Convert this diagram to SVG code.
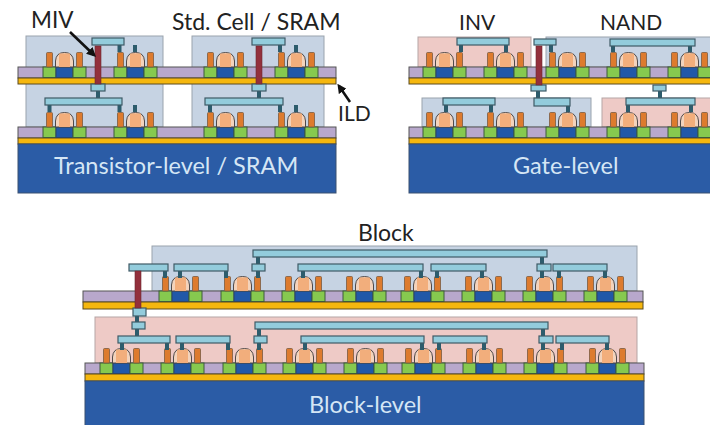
<svg xmlns="http://www.w3.org/2000/svg" width="710" height="425" viewBox="0 0 710 425">
<style>
text{font-family:Lato,"Liberation Sans",sans-serif;font-size:21px;fill:#222}
.w{fill:#d5e6f5;font-size:23.5px}
.l{font-size:23px}
.p{fill:#b8a8cc;stroke:#555;stroke-width:1}
.g{fill:#f5b70f;stroke:#5a4a20;stroke-width:1}
.s{fill:#2b5ca6;stroke:#3a5070;stroke-width:1}
.bb{fill:#c6d3e3;stroke:#9aa3ad;stroke-width:1}
.bp{fill:#eecac6;stroke:#b5a5a5;stroke-width:1}
.m{fill:#93ccdc;stroke:#3f5a66;stroke-width:1.2}
.miv{fill:#93303c;stroke:#6b2a30;stroke-width:.6}
.ar{fill:none;stroke:#111;stroke-width:2.6}
</style>
<defs>
<g id="t">
<rect x="0" y="0" width="13" height="10.5" fill="#86c94f" stroke="#3d5a3a"/>
<rect x="13" y="0" width="17" height="10.5" fill="#2158a8" stroke="#2f4464"/>
<rect x="30" y="0" width="13" height="10.5" fill="#86c94f" stroke="#3d5a3a"/>
<rect x="3.5" y="-14.5" width="6" height="14.5" rx="1" fill="#dd7b2e" stroke="#7a5a40" stroke-width=".8"/>
<rect x="33.5" y="-14.5" width="6" height="14.5" rx="1" fill="#dd7b2e" stroke="#7a5a40" stroke-width=".8"/>
<path d="M12.500 0V-6Q13-14.500 21.500-14.500Q30-14.500 30.500-6V0Z" fill="#f3d3bc" stroke="#4f4a4a" stroke-width="1"/>
<path d="M16 0V-13.500H27V0Z" fill="#f2ae7c"/>
</g>
<rect id="v" x="-2" y="0" width="4" height="7" fill="#2d5c6c"/>
<marker id="ah" viewBox="0 0 5 5" markerWidth="3.600" markerHeight="3.600" refX="3.500" refY="2.500" orient="auto"><path d="M0 0L5 2.500L0 5Z" fill="#111"/></marker>
</defs>

<g id="panel-transistor">
<rect class="bb" x="26" y="36" width="137" height="91"/>
<rect class="bb" x="192" y="36" width="132" height="91"/>
<rect class="p" x="18" y="67" width="318" height="11"/>
<rect class="g" x="18" y="78" width="318" height="6"/>
<rect class="p" x="18" y="127" width="318" height="11"/>
<rect class="g" x="18" y="138" width="318" height="6"/>
<rect class="s" x="18" y="144" width="318" height="49"/>
<use href="#t" x="43" y="67"/><use href="#t" x="114" y="67"/><use href="#t" x="204" y="67"/><use href="#t" x="275" y="67"/>
<use href="#t" x="43" y="127"/><use href="#t" x="114" y="127"/><use href="#t" x="204" y="127"/><use href="#t" x="275" y="127"/>
<use href="#v" x="119.500" y="45"/><use href="#v" x="135" y="45"/><use href="#v" x="280" y="45"/><use href="#v" x="296" y="45"/>
<use href="#v" x="98" y="91"/><use href="#v" x="259" y="91"/>
<use href="#v" x="49.500" y="105"/><use href="#v" x="119.500" y="105"/><use href="#v" x="135" y="105"/>
<use href="#v" x="210" y="105"/><use href="#v" x="280" y="105"/><use href="#v" x="296" y="105"/>
<rect class="m" x="92" y="38" width="32" height="7"/><rect class="m" x="252" y="38" width="33" height="7"/>
<rect class="m" x="91" y="84" width="14" height="7"/><rect class="m" x="252" y="84" width="14" height="7"/>
<rect class="m" x="45" y="98" width="77" height="7"/><rect class="m" x="205" y="98" width="78" height="7"/>
<rect class="miv" x="95" y="46" width="6" height="38"/><rect class="miv" x="256" y="46" width="6" height="38"/>
<text x="31" y="28" style="font-size:22.500px">MIV</text>
<text class="l" x="172" y="30">Std. Cell / SRAM</text>
<text x="338" y="121">ILD</text>
<text class="w" x="54" y="174">Transistor-level / SRAM</text>
<path class="ar" d="M70 32L94 55" marker-end="url(#ah)"/>
<path class="ar" d="M350 102L339 86" marker-end="url(#ah)"/>
</g>

<g id="panel-gate">
<rect class="bp" x="418" y="37" width="113" height="30"/>
<rect class="bb" x="546" y="37" width="170" height="30"/>
<rect class="bb" x="422" y="98" width="169" height="29"/>
<rect class="bp" x="602" y="98" width="114" height="29"/>
<rect class="p" x="409" y="67" width="306" height="11"/>
<rect class="g" x="409" y="78" width="306" height="6"/>
<rect class="p" x="409" y="127" width="306" height="11"/>
<rect class="g" x="409" y="138" width="306" height="6"/>
<rect class="s" x="409" y="144" width="306" height="49"/>
<use href="#t" x="423" y="67"/><use href="#t" x="484" y="67"/><use href="#t" x="546" y="67"/><use href="#t" x="607" y="67"/><use href="#t" x="668" y="67"/>
<use href="#t" x="423" y="127"/><use href="#t" x="484" y="127"/><use href="#t" x="546" y="127"/><use href="#t" x="607" y="127"/><use href="#t" x="668" y="127"/>
<use href="#v" x="461" y="45"/><use href="#v" x="506" y="45"/><use href="#v" x="551" y="45"/><use href="#v" x="613" y="45"/><use href="#v" x="690" y="45"/>
<use href="#v" x="538" y="91"/><use href="#v" x="660" y="91"/>
<use href="#v" x="446" y="105"/><use href="#v" x="491" y="105"/><use href="#v" x="568" y="105"/><use href="#v" x="628" y="105"/><use href="#v" x="691" y="105"/>
<rect class="m" x="457" y="38" width="52" height="7"/><rect class="m" x="534" y="39" width="22" height="6"/><rect class="m" x="610" y="39" width="85" height="7"/>
<rect class="m" x="531" y="85" width="15" height="6"/><rect class="m" x="653" y="85" width="13" height="6"/>
<rect class="m" x="443" y="98" width="52" height="7"/><rect class="m" x="534" y="98" width="36" height="8"/><rect class="m" x="626" y="98" width="69" height="7"/>
<rect class="miv" x="536" y="46" width="6" height="39"/>
<text x="459" y="30">INV</text>
<text x="600" y="30">NAND</text>
<text class="w" x="513" y="174">Gate-level</text>
</g>

<g id="panel-block">
<rect class="bb" x="152" y="246" width="485" height="45"/>
<rect class="bp" x="95" y="317" width="542" height="46"/>
<rect class="p" x="83" y="291" width="560" height="11"/>
<rect class="g" x="83" y="302" width="560" height="7"/>
<rect class="p" x="85" y="363" width="559" height="11"/>
<rect class="g" x="85" y="374" width="559" height="7"/>
<rect class="s" x="85" y="381" width="559" height="45"/>
<use href="#t" x="159" y="291"/><use href="#t" x="221" y="291"/><use href="#t" x="282" y="291"/><use href="#t" x="343" y="291"/><use href="#t" x="401" y="291"/><use href="#t" x="462" y="291"/><use href="#t" x="523" y="291"/><use href="#t" x="584" y="291"/>
<use href="#t" x="100" y="363"/><use href="#t" x="161" y="363"/><use href="#t" x="223" y="363"/><use href="#t" x="283" y="363"/><use href="#t" x="344" y="363"/><use href="#t" x="402" y="363"/><use href="#t" x="463" y="363"/><use href="#t" x="524" y="363"/><use href="#t" x="586" y="363"/>
<use href="#v" x="165" y="271"/><use href="#v" x="180" y="271"/><use href="#v" x="226" y="271"/><use href="#v" x="258" y="257"/><use href="#v" x="258" y="271"/><use href="#v" x="303" y="271"/><use href="#v" x="421" y="271"/><use href="#v" x="437" y="271"/><use href="#v" x="482" y="271"/><use href="#v" x="542" y="257"/><use href="#v" x="542" y="271"/><use href="#v" x="559" y="271"/><use href="#v" x="605" y="271"/>
<use href="#v" x="137" y="316"/><use href="#v" x="137" y="329"/><use href="#v" x="122" y="343"/><use href="#v" x="167" y="343"/><use href="#v" x="182" y="343"/><use href="#v" x="228" y="343"/><use href="#v" x="259" y="329"/><use href="#v" x="259" y="343"/><use href="#v" x="305" y="343"/><use href="#v" x="422" y="343"/><use href="#v" x="439" y="343"/><use href="#v" x="484" y="343"/><use href="#v" x="543" y="329"/><use href="#v" x="543" y="343"/><use href="#v" x="562" y="343"/><use href="#v" x="607" y="343"/>
<rect class="m" x="253" y="250" width="294" height="7"/>
<rect class="m" x="129" y="264" width="39" height="7"/><rect class="m" x="174" y="264" width="54" height="7"/><rect class="m" x="252" y="264" width="13" height="7"/><rect class="m" x="298" y="264" width="125" height="7"/><rect class="m" x="431" y="264" width="55" height="7"/><rect class="m" x="537" y="264" width="14" height="7"/><rect class="m" x="553" y="264" width="54" height="7"/>
<rect class="m" x="133" y="308" width="13" height="8"/>
<rect class="m" x="132" y="322" width="13" height="7"/><rect class="m" x="255" y="322" width="293" height="7"/>
<rect class="m" x="118" y="336" width="52" height="7"/><rect class="m" x="176" y="336" width="54" height="7"/><rect class="m" x="254" y="336" width="13" height="7"/><rect class="m" x="301" y="336" width="123" height="7"/><rect class="m" x="433" y="336" width="54" height="7"/><rect class="m" x="539" y="336" width="14" height="7"/><rect class="m" x="556" y="336" width="53" height="7"/>
<rect class="miv" x="135" y="271" width="6" height="37"/>
<text class="l" x="358" y="241">Block</text>
<text class="w" x="309" y="413">Block-level</text>
</g>
</svg>
